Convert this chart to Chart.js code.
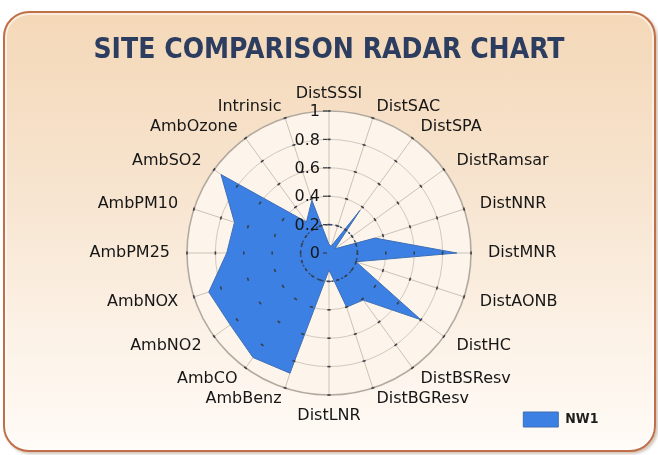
<!DOCTYPE html>
<html>
<head>
<meta charset="utf-8">
<title>Site Comparison Radar Chart</title>
<script src="https://cdn.jsdelivr.net/npm/chart.js@4.4.1/dist/chart.umd.min.js"></script>
<style>
    html, body { margin: 0; padding: 0; background: #fff; }
    #wrap { position: relative; width: 658px; height: 455px; overflow: hidden; }
    #panel {
        position: absolute; left: 3px; top: 11px; width: 649px; height: 437px;
        border: 2px solid #C07048; border-radius: 26px;
        background: linear-gradient(180deg, #F4D8B8 0%, #F7E4CF 40%, #FCF2E7 75%, #FFFBF7 100%);
        box-shadow: 2px 2px 3px rgba(120, 80, 50, 0.35), inset 0 0 0 2px rgba(255, 255, 255, 0.55);
    }
    #radar { position: absolute; left: 0; top: 0; }
</style>
</head>
<body>
<div id="wrap">
    <div id="panel"></div>
    <canvas id="radar" width="658" height="455"></canvas>
</div>
<script>
(function () {

// -------------------------------------------------------------------------------------------------------

var categories = ['DistSSSI', 'DistSAC', 'DistSPA', 'DistRamsar', 'DistNNR', 'DistMNR', 'DistAONB',
                  'DistHC', 'DistBSResv', 'DistBGResv', 'DistLNR', 'AmbBenz', 'AmbCO', 'AmbNO2',
                  'AmbNOX', 'AmbPM25', 'AmbPM10', 'AmbSO2', 'AmbOzone', 'Intrinsic'];
var nw1Values  = [0.06, 0.05, 0.37, 0.05, 0.34, 0.90, 0.20,
                  0.80, 0.41, 0.40, 0.12, 0.89, 0.91, 0.86,
                  0.89, 0.72, 0.70, 0.94, 0.27, 0.39];
var tickValues = [0, 0.2, 0.4, 0.6, 0.8, 1];
var tickLabels = ['0', '0.2', '0.4', '0.6', '0.8', '1'];
var seriesName = 'NW1';

var labelFont = '16px "DejaVu Sans"';

// -------------------------------------------------------------------------------------------------------

// circle background, spoke ticks, dotted inner ring, value labels and category labels
var radarDecor = {
    id: 'radarDecor',
    beforeDraw: function (chart) {
        var s = chart.scales.r, ctx = chart.ctx;
        ctx.save();
        ctx.beginPath();
        ctx.arc(s.xCenter, s.yCenter, s.drawingArea, 0, Math.PI * 2);
        ctx.fillStyle = '#FDF5EC';
        ctx.fill();
        ctx.restore();
    },
    afterDatasetsDraw: function (chart) {
        var s = chart.scales.r, ctx = chart.ctx;
        var i, j, p;
        ctx.save();

        // dotted ring at first step
        ctx.beginPath();
        ctx.setLineDash([2, 3]);
        ctx.arc(s.xCenter, s.yCenter, s.getDistanceFromCenterForValue(tickValues[1]), 0, Math.PI * 2);
        ctx.strokeStyle = '#2F4A7C';
        ctx.lineWidth = 1.5;
        ctx.stroke();
        ctx.setLineDash([]);

        // little tick marks on every spoke
        ctx.strokeStyle = '#3A3E46';
        ctx.lineWidth = 1.6;
        for (i = 0; i < categories.length; i++) {
            for (j = 1; j < tickValues.length; j++) {
                p = s.getPointPositionForValue(i, tickValues[j]);
                var nx = -Math.sin(p.angle) * 1.6, ny = Math.cos(p.angle) * 1.6;
                ctx.beginPath();
                ctx.moveTo(p.x - nx, p.y - ny);
                ctx.lineTo(p.x + nx, p.y + ny);
                ctx.stroke();
            }
        }

        // value labels on the vertical axis
        ctx.font = labelFont;
        ctx.fillStyle = '#161616';
        ctx.textAlign = 'right';
        ctx.textBaseline = 'middle';
        ctx.lineWidth = 1.2;
        for (j = 0; j < tickValues.length; j++) {
            var y = s.yCenter - s.getDistanceFromCenterForValue(tickValues[j]);
            ctx.fillText(tickLabels[j], s.xCenter - 9, y + 1);
            ctx.beginPath();
            ctx.moveTo(s.xCenter - 6, y);
            ctx.lineTo(s.xCenter - 2, y);
            ctx.stroke();
        }

        // category labels round the outside
        ctx.fillStyle = '#161616';
        for (i = 0; i < categories.length; i++) {
            var deg = i * 360 / categories.length;
            var pad;
            if (deg === 0) {
                pad = 13; ctx.textAlign = 'center'; ctx.textBaseline = 'alphabetic';
            } else if (deg === 180) {
                pad = 13; ctx.textAlign = 'center'; ctx.textBaseline = 'top';
            } else {
                pad = 9 + 8 * Math.abs(Math.sin(deg * Math.PI / 180));
                ctx.textAlign = deg < 180 ? 'left' : 'right';
                ctx.textBaseline = 'middle';
            }
            p = s.getPointPosition(i, s.drawingArea + pad);
            ctx.fillText(categories[i], p.x, p.y);
        }
        ctx.restore();
    }
};

// -------------------------------------------------------------------------------------------------------

window.site_radar = function (canvasId) {
    try {
        var canvas = document.getElementById(canvasId);
        if (!canvas) return;

        var ctx = canvas.getContext('2d');

        return new Chart(ctx, {
            type: 'radar',
            data: {
                labels: categories,
                datasets: [{
                    label: seriesName,
                    data: nw1Values,
                    backgroundColor: '#3C80E4',
                    borderColor: '#3F6FB5',
                    borderWidth: 1,
                    fill: 'origin',
                    pointRadius: 0,
                    pointHoverRadius: 0
                }]
            },
            options: {
                responsive: false,
                animation: false,
                devicePixelRatio: 1,
                layout: { padding: { left: 43.5, right: 43.5, top: 0, bottom: 18 } },
                scales: {
                    r: {
                        min: 0,
                        max: 1,
                        ticks: { stepSize: 0.2, display: false },
                        grid: {
                            circular: true,
                            color: function (c) { return c.index === 5 ? '#B3AA9F' : '#D2C9BC'; },
                            lineWidth: function (c) { return c.index === 5 ? 1.6 : 1; }
                        },
                        angleLines: { color: '#CCC2B5', lineWidth: 1 },
                        pointLabels: { display: false }
                    }
                },
                plugins: {
                    title: {
                        display: true,
                        text: 'SITE COMPARISON RADAR CHART',
                        color: '#2C3D5F',
                        font: { family: '"DejaVu Sans Condensed"', size: 28, weight: 'bold' },
                        padding: { top: 34, bottom: 44 }
                    },
                    legend: {
                        position: 'bottom',
                        align: 'end',
                        labels: {
                            boxWidth: 35,
                            boxHeight: 15,
                            padding: 16,
                            color: '#1E1E1E',
                            font: { family: '"DejaVu Sans Condensed"', size: 14, weight: 'bold' }
                        }
                    },
                    tooltip: { enabled: false }
                }
            },
            plugins: [radarDecor]
        });
    } catch (e) { console.log(e); }
};

site_radar('radar');

// -------------------------------------------------------------------------------------------------------

})();
</script>
</body>
</html>
